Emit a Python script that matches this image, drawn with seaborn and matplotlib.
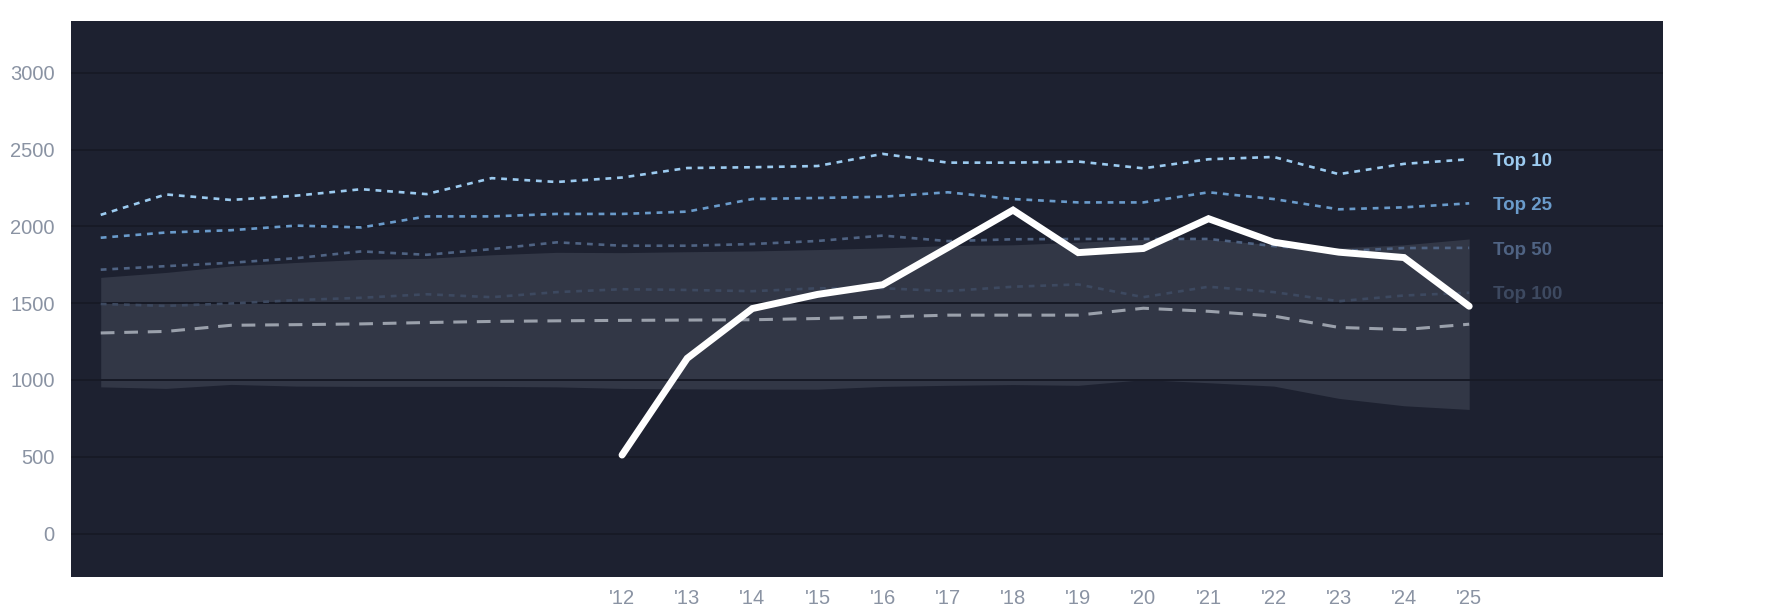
import numpy as np
import pandas as pd
import matplotlib
matplotlib.use("Agg")
import matplotlib.pyplot as plt
import seaborn as sns

# %%
# values
years = list(range(2004, 2026))

top10 = [2075, 2208, 2172, 2200, 2242, 2210, 2314, 2289, 2318, 2380, 2385, 2393,
         2472, 2415, 2415, 2422, 2378, 2437, 2452, 2340, 2407, 2437]
top25 = [1926, 1960, 1975, 2005, 1993, 2065, 2065, 2081, 2081, 2096, 2178, 2185,
         2193, 2222, 2178, 2156, 2156, 2222, 2178, 2111, 2124, 2150]
top50 = [1718, 1741, 1763, 1793, 1837, 1815, 1852, 1896, 1874, 1874, 1885, 1905,
         1940, 1904, 1916, 1918, 1918, 1918, 1872, 1838, 1859, 1860]
top100 = [1495, 1482, 1498, 1520, 1535, 1558, 1539, 1572, 1591, 1586, 1578, 1597,
          1597, 1579, 1607, 1622, 1539, 1607, 1572, 1513, 1550, 1568]
median = [1306, 1316, 1356, 1360, 1365, 1374, 1381, 1385, 1388, 1390, 1392, 1400,
          1410, 1422, 1422, 1422, 1467, 1447, 1416, 1342, 1328, 1363]
band_hi = [1668, 1700, 1742, 1765, 1785, 1792, 1815, 1831, 1829, 1835, 1840, 1849,
           1860, 1875, 1880, 1897, 1915, 1915, 1880, 1860, 1880, 1918]
band_lo = [955, 945, 971, 960, 958, 958, 958, 955, 945, 942, 940, 940,
           958, 965, 970, 965, 1002, 982, 960, 880, 832, 808]

team_years = list(range(2012, 2026))
team = [511, 1141, 1465, 1557, 1620, 1862, 2106, 1829, 1856, 2050, 1897, 1832, 1797, 1480]

tick_years = list(range(2012, 2026))
tick_labels = ["'" + str(y)[2:] for y in tick_years]

tiers = ["Top 10", "Top 25", "Top 50", "Top 100"]
tier_colors = ["#9ccbf0", "#6a9bcb", "#4f6383", "#3d4960"]

# %%
bg = "#1d2130"
sns.set_style("dark", {"axes.facecolor": bg, "figure.facecolor": "white"})
plt.rcParams['font.family'] = ['Liberation Sans', 'DejaVu Sans']

fig = plt.figure(figsize=(17.85, 6.14), dpi=100)
ax = fig.add_axes([0.040, 0.061, 0.8915, 0.9055])

df = pd.DataFrame({"year": years, "Top 10": top10, "Top 25": top25,
                   "Top 50": top50, "Top 100": top100, "median": median})

# shaded spread
ax.fill_between(years, band_lo, band_hi, color="#323746", lw=0, zorder=0.3)

# tier lines
for name, col in zip(tiers, tier_colors):
    sns.lineplot(data=df, x="year", y=name, ax=ax, color=col, lw=1.9, zorder=2)
    ax.lines[-1].set_dashes((2.2, 2.2))

sns.lineplot(data=df, x="year", y="median", ax=ax, color="#9aa0ab", lw=2.2, zorder=2)
ax.lines[-1].set_dashes((4.5, 3.2))

tdf = pd.DataFrame({"year": team_years, "val": team})
sns.lineplot(data=tdf, x="year", y="val", ax=ax, color="white", lw=5,
             zorder=3, solid_joinstyle="miter")

# end labels, sat just under the last value
last = {"Top 10": top10[-1], "Top 25": top25[-1], "Top 50": top50[-1], "Top 100": top100[-1]}
for name, col in zip(tiers, tier_colors):
    ax.text(2025.36, last[name] - 14, name, color=col, fontsize=13.5, fontweight="bold",
            ha="left", va="center")

ax.set_xlim(2003.55, 2027.97)
ax.set_ylim(-280, 3340)
ax.set_xticks(tick_years)
ax.set_xticklabels(tick_labels)
ax.set_yticks(range(0, 3001, 500))
ax.grid(axis="y", color="#171a26", lw=1.4)
ax.grid(axis="x", visible=False)
ax.set_axisbelow(True)
ax.tick_params(axis="both", length=0, labelcolor="#8a93a3", labelsize=14.5)
ax.tick_params(axis="y", pad=12)
ax.tick_params(axis="x", pad=9)
ax.set_xlabel("")
ax.set_ylabel("")
for s in ax.spines.values():
    s.set_visible(False)

plt.savefig("out.png", dpi=100, facecolor="white")
